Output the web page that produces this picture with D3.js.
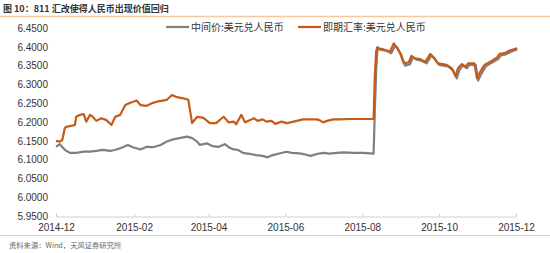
<!DOCTYPE html>
<html><head><meta charset="utf-8">
<script src="https://cdn.jsdelivr.net/npm/d3@7"></script>
<style>
html,body{margin:0;padding:0;background:#fff;}
svg{display:block;font-family:"Liberation Sans",Arial,sans-serif;}
</style></head>
<body><svg id="c" width="550" height="253"></svg>
<script>
const titleText = "图 10：811 汇改使得人民币出现价值回归";
const sourceText = "资料来源：Wind，天风证券研究所";
const seriesNames = ["中间价:美元兑人民币", "即期汇率:美元兑人民币"];
const yTicks = [5.95, 6.00, 6.05, 6.10, 6.15, 6.20, 6.25, 6.30, 6.35, 6.40, 6.45];
const xTicks = ["2014-12-01","2015-02-01","2015-04-01","2015-06-01","2015-08-01","2015-10-01","2015-12-01"];
const xTickLabels = ["2014-12","2015-02","2015-04","2015-06","2015-08","2015-10","2015-12"];

const parityDates = ["2014-12-01","2014-12-04","2014-12-08","2014-12-12","2014-12-17","2014-12-23","2014-12-28",
"2015-01-02","2015-01-07","2015-01-13","2015-01-18","2015-01-23","2015-01-27","2015-01-31","2015-02-06","2015-02-11",
"2015-02-16","2015-02-22","2015-02-27","2015-03-04","2015-03-09","2015-03-15","2015-03-19","2015-03-23","2015-03-25",
"2015-03-31","2015-04-04","2015-04-09","2015-04-14","2015-04-17","2015-04-21","2015-04-24","2015-04-29","2015-05-04",
"2015-05-09","2015-05-14","2015-05-18","2015-05-22","2015-05-28","2015-06-02","2015-06-06","2015-06-10","2015-06-15",
"2015-06-21","2015-06-26","2015-07-01","2015-07-06","2015-07-12","2015-07-17","2015-07-25","2015-08-02","2015-08-10",
"2015-08-11","2015-08-12","2015-08-13","2015-08-15","2015-08-19","2015-08-21","2015-08-24","2015-08-27","2015-08-29",
"2015-09-01","2015-09-04","2015-09-08","2015-09-10","2015-09-13","2015-09-17","2015-09-21","2015-09-25","2015-09-27",
"2015-10-01","2015-10-08","2015-10-12","2015-10-15","2015-10-17","2015-10-20","2015-10-23","2015-10-25","2015-10-30",
"2015-11-01","2015-11-03","2015-11-07","2015-11-13","2015-11-17","2015-11-19","2015-11-23","2015-11-27","2015-12-02"];
const parityValues = [6.134,6.141,6.126,6.118,6.118,6.121,6.121,
6.123,6.126,6.123,6.127,6.133,6.139,6.133,6.127,6.134,
6.133,6.139,6.148,6.154,6.157,6.161,6.157,6.148,6.139,
6.143,6.136,6.134,6.141,6.133,6.127,6.126,6.117,6.115,
6.112,6.110,6.106,6.112,6.117,6.121,6.118,6.117,6.115,
6.110,6.115,6.118,6.116,6.118,6.119,6.118,6.118,6.116,
6.230,6.331,6.392,6.393,6.390,6.388,6.383,6.402,6.397,
6.378,6.350,6.354,6.372,6.366,6.363,6.356,6.377,6.371,
6.352,6.348,6.338,6.316,6.338,6.350,6.343,6.352,6.352,
6.310,6.325,6.348,6.360,6.368,6.377,6.380,6.387,6.393];

const spotDates = ["2014-12-01","2014-12-04","2014-12-06","2014-12-08","2014-12-09","2014-12-12","2014-12-16","2014-12-17",
"2014-12-20","2014-12-23","2014-12-25","2014-12-28","2014-12-30","2015-01-02","2015-01-06","2015-01-10","2015-01-14",
"2015-01-17","2015-01-21","2015-01-25","2015-01-29","2015-02-03","2015-02-06","2015-02-11","2015-02-16","2015-02-19",
"2015-02-27","2015-03-03","2015-03-07","2015-03-12","2015-03-16","2015-03-19","2015-03-23","2015-03-28","2015-04-02",
"2015-04-07","2015-04-13","2015-04-17","2015-04-21","2015-04-23","2015-04-27","2015-04-30","2015-05-04","2015-05-07",
"2015-05-10","2015-05-14","2015-05-17","2015-05-21","2015-05-24","2015-05-29","2015-06-02","2015-06-05","2015-06-10",
"2015-06-15","2015-06-21","2015-06-26","2015-06-28","2015-07-01","2015-07-04","2015-07-09","2015-07-14","2015-07-22",
"2015-08-05","2015-08-10","2015-08-11","2015-08-12","2015-08-13","2015-08-14","2015-08-18","2015-08-20","2015-08-23",
"2015-08-26","2015-08-28","2015-08-31","2015-09-03","2015-09-07","2015-09-09","2015-09-12","2015-09-16","2015-09-20",
"2015-09-24","2015-09-26","2015-09-30","2015-10-07","2015-10-11","2015-10-14","2015-10-16","2015-10-19","2015-10-22",
"2015-10-24","2015-10-29","2015-10-31","2015-11-02","2015-11-06","2015-11-12","2015-11-16","2015-11-18","2015-11-22",
"2015-11-26","2015-12-02"];
const spotValues = [6.150,6.148,6.152,6.184,6.187,6.189,6.192,6.214,
6.219,6.221,6.201,6.219,6.214,6.203,6.210,6.205,6.192,
6.214,6.219,6.245,6.251,6.257,6.245,6.243,6.251,6.254,
6.259,6.272,6.266,6.263,6.259,6.197,6.214,6.211,6.197,
6.197,6.214,6.199,6.201,6.194,6.219,6.199,6.205,6.210,
6.203,6.207,6.201,6.203,6.195,6.201,6.197,6.199,6.203,
6.207,6.207,6.207,6.205,6.199,6.203,6.207,6.207,6.208,
6.208,6.208,6.323,6.387,6.399,6.396,6.393,6.391,6.387,
6.409,6.400,6.383,6.356,6.359,6.376,6.369,6.367,6.360,
6.381,6.374,6.356,6.352,6.343,6.322,6.343,6.354,6.347,
6.356,6.356,6.316,6.330,6.352,6.363,6.372,6.381,6.383,
6.390,6.396];

const colors = ["#7f7f7f", "#c65b17"];
const parse = d3.timeParse("%Y-%m-%d");
const svg = d3.select("#c");

const x = d3.scaleTime().domain([parse("2014-12-01"), parse("2015-12-01")]).range([56, 516]);
const y = d3.scaleLinear().domain([5.95, 6.45]).range([216, 28]);

// title and separators
svg.append("text").attr("x", 3).attr("y", 12).text(titleText)
  .attr("font-family", "'Noto Sans CJK SC', sans-serif").attr("font-size", 9).attr("font-weight", "bold").attr("fill", "#333");
svg.append("line").attr("x1", 0).attr("x2", 550).attr("y1", 16.5).attr("y2", 16.5)
  .attr("stroke", "#f7c89b").attr("stroke-width", 1.5);
svg.append("line").attr("x1", 0).attr("x2", 550).attr("y1", 235.5).attr("y2", 235.5)
  .attr("stroke", "#f7c89b").attr("stroke-width", 1.2);
svg.append("text").attr("x", 9).attr("y", 247.5).text(sourceText)
  .attr("font-family", "'Noto Sans CJK SC', sans-serif").attr("font-size", 7.3).attr("fill", "#666");

// y axis labels
const yAxis = d3.axisLeft(y).tickValues(yTicks).tickFormat(d3.format(".4f")).tickSize(0).tickPadding(0);
const gy = svg.append("g").attr("transform", "translate(48,0)").call(yAxis);
gy.select(".domain").remove();
gy.selectAll("text").attr("font-size", 10).attr("fill", "#333").attr("font-family", "'Liberation Sans', Arial, sans-serif");

// x axis
const xAxis = d3.axisBottom(x).tickValues(xTicks.map(parse)).tickFormat((d, i) => xTickLabels[i]).tickSize(-3).tickPadding(7);
const gx = svg.append("g").attr("transform", "translate(0,216.5)").call(xAxis);
gx.select(".domain").attr("stroke", "#d0d0d0");
gx.selectAll(".tick line").attr("stroke", "#d0d0d0");
gx.selectAll("text").attr("font-size", 10).attr("fill", "#333").attr("font-family", "'Liberation Sans', Arial, sans-serif");

// lines
const line = d3.line().x(d => x(d.date)).y(d => y(d.value));
const paritySeries = parityDates.map((d, i) => ({date: parse(d), value: parityValues[i]}));
const spotSeries = spotDates.map((d, i) => ({date: parse(d), value: spotValues[i]}));
[paritySeries, spotSeries].forEach((s, i) => {
  svg.append("path").datum(s).attr("d", line).attr("fill", "none")
    .attr("stroke", colors[i]).attr("stroke-width", 2.2).attr("stroke-linejoin", "round");
});

// legend
const legendX = [166, 298];
seriesNames.forEach((n, i) => {
  svg.append("line").attr("x1", legendX[i]).attr("x2", legendX[i] + 23).attr("y1", 27).attr("y2", 27)
    .attr("stroke", colors[i]).attr("stroke-width", 2.2);
  svg.append("text").attr("x", legendX[i] + 25).attr("y", 30.5).text(n)
    .attr("font-family", "'Noto Sans CJK SC', sans-serif").attr("font-size", 10).attr("fill", "#333");
});
</script></body></html>
